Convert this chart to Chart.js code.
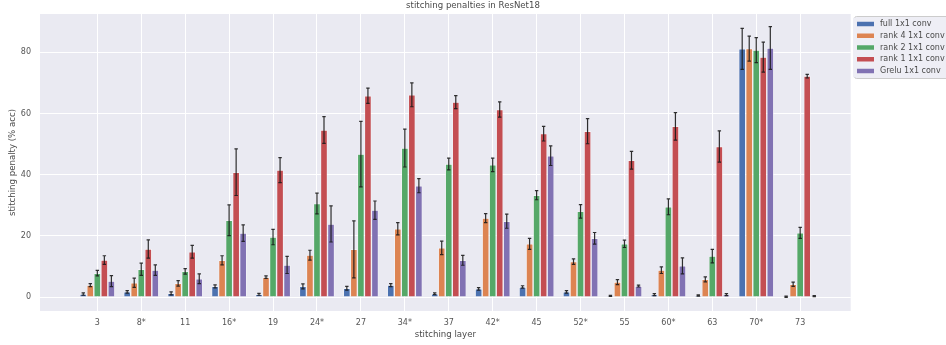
<!DOCTYPE html>
<html>
<head>
<meta charset="utf-8">
<script src="https://cdn.jsdelivr.net/npm/chart.js@4"></script>
<style>
html,body{margin:0;padding:0;background:#fff;}
canvas{display:block;}
</style>
</head>
<body>
<canvas id="c" width="946" height="345"></canvas>
<script>
const categories = ['3','8*','11','16*','19','24*','27','34*','37','42*','45','52*','55','60*','63','70*','73'];
const seriesNames = ['full 1x1 conv','rank 4 1x1 conv','rank 2 1x1 conv','rank 1 1x1 conv','Grelu 1x1 conv'];
const fullVals  = [1.0, 1.7, 1.2, 3.5, 0.9, 3.5, 2.9, 3.9, 1.1, 2.7, 3.3, 1.7, 0.4, 0.8, 0.5, 81.1, 0.1];
const fullErr   = [0.4, 0.4, 0.5, 0.5, 0.3, 0.8, 0.6, 0.5, 0.3, 0.4, 0.4, 0.4, 0.2, 0.3, 0.2, 6.7, 0.2];
const rank4Vals = [3.9, 4.7, 4.5, 12.0, 6.5, 13.7, 15.6, 22.3, 16.1, 25.8, 17.4, 11.6, 4.9, 8.8, 5.8, 81.2, 4.2];
const rank4Err  = [0.5, 1.5, 0.9, 1.5, 0.4, 1.6, 9.3, 2.0, 2.2, 1.5, 1.8, 0.9, 0.8, 1.1, 0.8, 4.1, 0.7];
const rank2Vals = [7.8, 9.1, 8.4, 25.1, 19.6, 30.6, 46.7, 48.7, 43.5, 43.2, 33.3, 28.0, 17.4, 29.5, 13.4, 80.7, 21.0];
const rank2Err  = [0.9, 2.0, 0.9, 5.0, 2.5, 3.4, 10.7, 6.2, 1.9, 2.2, 1.5, 2.2, 1.2, 2.6, 2.2, 4.1, 1.8];
const rank1Vals = [12.1, 15.7, 14.8, 40.8, 41.5, 54.6, 65.8, 66.1, 63.7, 61.3, 53.4, 54.2, 44.7, 55.8, 49.2, 78.4, 72.2];
const rank1Err  = [1.4, 3.0, 2.1, 7.6, 4.1, 4.4, 2.5, 3.9, 2.1, 2.5, 2.4, 4.1, 2.9, 4.5, 5.1, 4.9, 0.6];
const greluVals = [5.2, 8.8, 6.0, 20.9, 10.5, 23.9, 28.4, 36.4, 12.0, 24.8, 46.2, 19.2, 3.6, 10.2, 0.8, 81.4, 0.3];
const greluErr  = [1.8, 1.7, 1.6, 2.7, 2.8, 5.9, 3.0, 2.3, 1.6, 2.3, 3.2, 1.9, 0.3, 2.6, 0.3, 7.0, 0.2];
const yTicks = [0, 20, 40, 60, 80];

const colors = ['#4C72B0', '#DD8452', '#55A868', '#C44E52', '#8172B3'];
const allVals = [fullVals, rank4Vals, rank2Vals, rank1Vals, greluVals];
const allErrs = [fullErr, rank4Err, rank2Err, rank1Err, greluErr];

const FONT = '"DejaVu Sans", sans-serif';
const LEGEND_BG = '#EEEEF5';
const TEXT = '#4a4a4a';
const TICK = '#555555';

const datasets = seriesNames.map((name, k) => ({
  label: name,
  data: allVals[k].map((v, i) => ({x: i, y: v})),
  errors: allErrs[k],
  backgroundColor: colors[k],
  borderColor: 'rgba(255,255,255,0.75)',
  borderWidth: 0.7,
  categoryPercentage: 0.8,
  barPercentage: 1.0
}));

const bgPlugin = {
  id: 'bg',
  beforeDraw(chart) {
    const {ctx, chartArea: a} = chart;
    ctx.save();
    ctx.fillStyle = '#EAEAF2';
    ctx.fillRect(a.left, a.top, a.right - a.left, a.bottom - a.top);
    ctx.fillStyle = LEGEND_BG;
    ctx.strokeStyle = '#CCCCCC';
    ctx.lineWidth = 1;
    ctx.beginPath();
    if (ctx.roundRect) ctx.roundRect(854.5, 16.5, 100, 62, 2); else ctx.rect(854.5, 16.5, 100, 62);
    ctx.fill();
    ctx.stroke();
    ctx.restore();
  }
};

const errPlugin = {
  id: 'errbars',
  afterDatasetsDraw(chart) {
    const {ctx} = chart;
    const ys = chart.scales.y;
    ctx.save();
    ctx.strokeStyle = 'rgba(25,25,25,0.9)';
    ctx.lineWidth = 1.2;
    chart.data.datasets.forEach((ds, k) => {
      const meta = chart.getDatasetMeta(k);
      meta.data.forEach((bar, i) => {
        const v = ds.data[i].y, e = ds.errors[i];
        const x = bar.x;
        const y1 = ys.getPixelForValue(v - e);
        const y2 = ys.getPixelForValue(v + e);
        ctx.beginPath();
        ctx.moveTo(x, y1); ctx.lineTo(x, y2);
        ctx.moveTo(x - 1.7, y1); ctx.lineTo(x + 1.7, y1);
        ctx.moveTo(x - 1.7, y2); ctx.lineTo(x + 1.7, y2);
        ctx.stroke();
      });
    });
    ctx.restore();
  }
};

const legendFix = {
  id: 'legendFix',
  afterInit(chart) {
    const lg = chart.legend;
    const orig = lg.fit.bind(lg);
    lg.fit = function() { orig(); this.width = 95.3; };
  },
  afterLayout(chart) {
    const lg = chart.legend;
    lg.left = 851.75;
    lg.top = 16.5;
  }
};

new Chart(document.getElementById('c'), {
  type: 'bar',
  data: { datasets },
  plugins: [bgPlugin, errPlugin, legendFix],
  options: {
    responsive: false,
    animation: false,
    devicePixelRatio: 1,
    layout: { padding: 0 },
    plugins: {
      title: {
        display: true,
        text: 'stitching penalties in ResNet18',
        color: TEXT,
        font: { family: FONT, size: 8.6, weight: 'normal' },
        padding: { top: 0.6, bottom: 3.1 }
      },
      legend: {
        display: true,
        position: 'right',
        align: 'start',
        labels: {
          boxWidth: 21,
          boxHeight: 8.5,
          padding: 3.25,
          color: TEXT,
          font: { family: FONT, size: 8 },
          generateLabels(chart) {
            const items = Chart.defaults.plugins.legend.labels.generateLabels(chart);
            items.forEach(it => { it.lineWidth = 4; it.strokeStyle = LEGEND_BG; });
            return items;
          }
        }
      },
      tooltip: { enabled: false }
    },
    scales: {
      x: {
        type: 'linear',
        min: -1.305,
        max: 17.15,
        offset: false,
        afterBuildTicks(scale) { scale.ticks = categories.map((_, i) => ({value: i})); },
        afterFit(scale) { scale.height = 34; },
        grid: { color: '#FFFFFF', lineWidth: 1, drawTicks: false, offset: false },
        border: { display: false },
        ticks: {
          autoSkip: false,
          maxRotation: 0,
          padding: 7,
          color: TICK,
          font: { family: FONT, size: 8 },
          callback: (v) => categories[v] !== undefined ? categories[v] : ''
        },
        title: {
          display: true,
          text: 'stitching layer',
          color: TEXT,
          font: { family: FONT, size: 8.6 },
          padding: { top: 0, bottom: 5.3 }
        }
      },
      y: {
        type: 'linear',
        min: -4.55,
        max: 92.5,
        afterBuildTicks(scale) { scale.ticks = yTicks.map(v => ({value: v})); },
        afterFit(scale) { scale.width = 40; },
        grid: { color: '#FFFFFF', lineWidth: 1, drawTicks: false },
        border: { display: false },
        ticks: {
          padding: 9,
          color: TICK,
          font: { family: FONT, size: 8 }
        },
        title: {
          display: true,
          text: 'stitching penalty (% acc)',
          color: TEXT,
          font: { family: FONT, size: 8.6 },
          padding: { top: 7.8, bottom: 0 }
        }
      }
    }
  }
});
</script>
</body>
</html>
